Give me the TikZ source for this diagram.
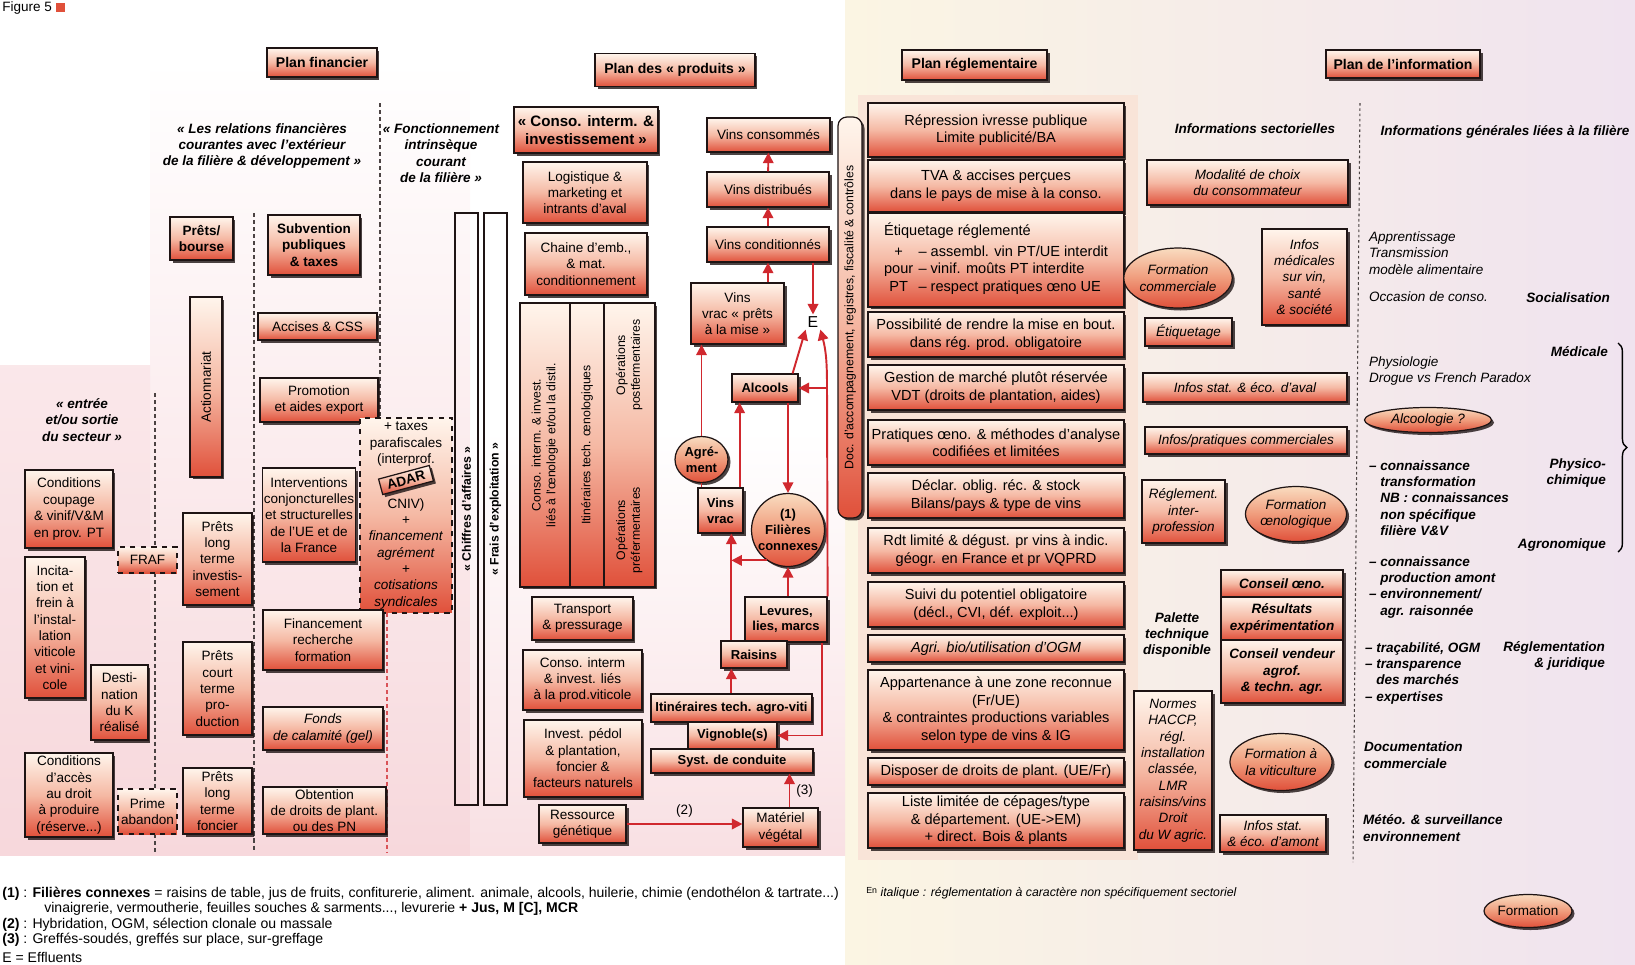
\documentclass[tikz,border=0pt]{standalone}
\usepackage{fontspec}
\setmainfont{Liberation Sans}
\usepackage{xcolor}
\usepackage{tikz}
\usetikzlibrary{arrows.meta,calc,shadows,shapes.geometric,decorations.pathreplacing,positioning}
\definecolor{ink}{HTML}{1E1414}
\definecolor{boxtop}{HTML}{FFF5EC}
\definecolor{boxmid}{HTML}{F5B9A4}
\definecolor{boxbot}{HTML}{E0503A}
\definecolor{ovtop}{HTML}{F9DCC0}
\definecolor{ovmid}{HTML}{F09C7C}
\definecolor{arrowred}{HTML}{D0282E}
\definecolor{pinkbg}{HTML}{F7D8DC}
\definecolor{creambg}{HTML}{FBF5E3}
\definecolor{lavbg}{HTML}{F0E3EF}
\definecolor{peachbg}{HTML}{F9E4D8}
\newcommand{\bxf}{\fontsize{7.7}{9.3}\selectfont}
\newcommand{\rgf}{\fontsize{8.3}{10}\selectfont}
\newcommand{\hdf}{\fontsize{8}{9.6}\selectfont\bfseries}
\newcommand{\smf}{\fontsize{7}{8.4}\selectfont}
\newcommand{\flf}{\fontsize{7.4}{9}\selectfont\bfseries}
\newcommand{\fnf}{\fontsize{8}{9.4}\selectfont}
\tikzset{
  plainbox/.style={draw=ink,line width=0.7pt,top color=boxtop,bottom color=boxbot,middle color=boxmid,
    inner sep=1pt,align=center,font=\bxf},
  box/.style={plainbox,drop shadow={shadow xshift=0.5mm,shadow yshift=-0.5mm,fill=ink,opacity=0.8}},
  dbox/.style={plainbox,dashed},
  rbox/.style={box,font=\rgf},
  ibox/.style={box,font=\bxf\itshape},
  hdr/.style={box,font=\hdf},
  oval/.style={box,ellipse,inner sep=0pt,top color=ovtop,bottom color=boxbot,middle color=ovmid},
  bar/.style={draw=ink,line width=1pt,inner sep=0pt,font=\smf\bfseries},
  cell/.style={draw=ink,line width=0.6pt,inner sep=0pt,font=\smf,minimum height=5.68cm},
  vtxt/.style={font=\smf,inner sep=0pt},
  note/.style={font=\bxf\bfseries\itshape,align=center,inner sep=1pt},
  gen/.style={font=\bxf\itshape,align=left,inner sep=1pt,anchor=west},
  genb/.style={gen,font=\bxf\bfseries\itshape},
  tag/.style={genb,anchor=east,align=right},
  sep/.style={draw=ink!80,line width=0.6pt,dash pattern=on 2.3pt off 1.7pt},
  fl/.style={-{Triangle[length=6pt,width=6pt]},draw=arrowred,line width=1.1pt},
  ln/.style={draw=arrowred,line width=1.1pt},
  fn/.style={font=\fnf,anchor=west,inner sep=0pt},
  >=Stealth}
\begin{document}
\begin{tikzpicture}[x=0.02cm,y=-0.02cm]
\useasboundingbox (0,0) rectangle (1635,964);

% paper tints
\fill[left color=creambg,right color=lavbg] (845,0) rectangle (1635,964);
\fill[top color=white,bottom color=pinkbg] (150,60) rectangle (470,855);
\fill[top color=pinkbg!60,bottom color=pinkbg] (0,365) rectangle (150,855);
\fill[top color=white,bottom color=pinkbg!80] (470,430) rectangle (845,855);
\fill[peachbg] (858,95) rectangle (1138,860);

\node[font=\bxf,anchor=west,inner sep=0pt] (figTitle) at (2,8) {Figure 5 \textcolor{boxbot}{\rule{5pt}{5pt}}};

% ---------------- plan financier
\node[hdr,minimum width=2.2cm,minimum height=0.58cm] (hdrFin) at (322,62.5) {Plan financier};
\node[note] (relExt) at (262,146) {«~Les relations financières\\courantes avec l'extérieur\\de la filière \& développement~»};
\node[note] (foncInt) at (441,153) {«~Fonctionnement\\intrinsèque\\courant\\de la filière~»};
\node[note] (entSort) at (82,420) {«~entrée\\et/ou sortie\\du secteur~»};

\draw[sep] (380,103) -- (380,418);
\draw[sep,draw=arrowred!80] (387,613) -- (387,852);
\draw[sep] (254,213) -- (254,852);
\draw[sep] (155,393) -- (155,547);
\draw[sep] (155,573) -- (155,789);
\draw[sep] (155,834) -- (155,852);

\node[box,font=\bxf\bfseries,minimum width=1.26cm,minimum height=0.86cm] (pretsBourse) at (201.5,238.5) {Prêts/\\bourse};
\node[box,font=\bxf\bfseries,minimum width=1.84cm,minimum height=1.2cm] (subv) at (314,245) {Subvention\\publiques\\\& taxes};
\node[box,minimum width=0.64cm,minimum height=3.6cm] (action) at (206,387) {\rotatebox{90}{Actionnariat}};
\node[box,minimum width=2.38cm,minimum height=0.54cm] (accises) at (317.5,326.5) {Accises \& CSS};
\node[box,minimum width=2.36cm,minimum height=0.88cm] (promo) at (319,400) {Promotion\\et aides export};
\node[dbox,minimum width=1.84cm,minimum height=3.9cm] (taxes) at (406,515.5)
  {+ taxes\\parafiscales\\(interprof.\\[16pt]CNIV)\\+\\\textit{financement}\\\textit{agrément}\\+\\\textit{cotisations}\\\textit{syndicales}};
\node[box,font=\bxf\bfseries,rotate=15,minimum width=1.05cm,minimum height=0.32cm,inner sep=0pt] (adar) at (406,480) {ADAR};
\node[box,minimum width=1.84cm,minimum height=1.88cm] (interv) at (309,515) {Interventions\\conjoncturelles\\et structurelles\\de l'UE et de\\la France};
\node[box,minimum width=1.38cm,minimum height=1.84cm] (pretsLong) at (217.5,559) {Prêts\\long\\terme\\investis-\\sement};
\node[box,minimum width=1.76cm,minimum height=1.56cm] (condCoup) at (69,509) {Conditions\\coupage\\\& vinif/V\&M\\en prov. PT};
\node[dbox,minimum width=1.18cm,minimum height=0.52cm] (fraf) at (147.5,560) {FRAF};
\node[box,minimum width=1.2cm,minimum height=2.82cm] (incit) at (55,627.5) {Incita-\\tion et\\frein à\\l'instal-\\lation\\viticole\\et vini-\\cole};
\node[box,minimum width=1.14cm,minimum height=1.5cm] (destin) at (119.5,702.5) {Desti-\\nation\\du K\\réalisé};
\node[box,minimum width=1.38cm,minimum height=1.86cm] (pretsCourt) at (217.5,688.5) {Prêts\\court\\terme\\pro-\\duction};
\node[box,minimum width=2.4cm,minimum height=1.2cm] (finRech) at (323,640) {Financement\\recherche\\formation};
\node[box,font=\bxf\itshape,minimum width=2.4cm,minimum height=0.86cm] (fonds) at (323,728.5) {Fonds\\de calamité (gel)};
\node[box,minimum width=1.76cm,minimum height=1.68cm] (condAcces) at (69,795) {Conditions\\d'accès\\au droit\\à produire\\(réserve...)};
\node[dbox,minimum width=1.18cm,minimum height=0.9cm] (prime) at (147.5,811.5) {Prime\\abandon};
\node[box,minimum width=1.38cm,minimum height=1.32cm] (pretsFonc) at (217.5,801) {Prêts\\long\\terme\\foncier};
\node[box,minimum width=2.46cm,minimum height=0.94cm] (obtention) at (324.5,810.5) {Obtention\\de droits de plant.\\ou des PN};

% ---------------- plan des produits
\node[hdr,minimum width=3.2cm,minimum height=0.66cm] (hdrProd) at (675,70) {Plan des «~produits~»};
\node[bar,minimum width=0.46cm,minimum height=11.84cm] (chiffre) at (466.5,509) {\rotatebox{90}{«~Chiffres d'affaires~»}};
\node[bar,minimum width=0.46cm,minimum height=11.84cm] (frais) at (495.5,509) {\rotatebox{90}{«~Frais d'exploitation~»}};

\node[box,font=\fontsize{8.6}{10}\selectfont\bfseries,minimum width=2.88cm,minimum height=0.92cm] (consoHdr) at (586,130) {«~Conso. interm. \&\\investissement~»};
\node[box,minimum width=2.48cm,minimum height=1.22cm] (logist) at (585,192.5) {Logistique \&\\marketing et\\intrants d'aval};
\node[box,minimum width=2.44cm,minimum height=1.24cm] (chaine) at (586,264) {Chaine d'emb.,\\\& mat.\\conditionnement};
\node[box,minimum width=2.7cm,minimum height=5.68cm] (oenoBox) at (587.5,445) {};
\node[cell,minimum width=1.0cm] (oenoA) at (545,445) {\rotatebox{90}{\begin{tabular}{@{}c@{}}Conso. interm. \& invest.\\liés à l'œnologie et/ou la distil.\end{tabular}}};
\node[cell,minimum width=0.68cm] (oenoB) at (587,445) {\rotatebox{90}{Itinéraires tech. œnologiques}};
\node[cell,minimum width=1.02cm] (oenoC) at (629.5,445) {};
\node[vtxt] (postFerm) at (629.5,365) {\rotatebox{90}{\begin{tabular}{@{}c@{}}Opérations\\postfermentaires\end{tabular}}};
\node[vtxt] (preFerm) at (629.5,530) {\rotatebox{90}{\begin{tabular}{@{}c@{}}Opérations\\préfermentaires\end{tabular}}};
\node[box,minimum width=2.02cm,minimum height=0.86cm] (transport) at (582.5,618.5) {Transport\\\& pressurage};
\node[box,minimum width=2.38cm,minimum height=1.2cm] (consoProd) at (582.5,680) {Conso. interm\\\& invest. liés\\à la prod.viticole};
\node[box,minimum width=2.36cm,minimum height=1.54cm] (investPed) at (583,758.5) {Invest. pédol\\\& plantation,\\foncier \&\\facteurs naturels};
\node[box,minimum width=1.74cm,minimum height=0.76cm] (ressource) at (582.5,824) {Ressource\\génétique};

\node[box,minimum width=2.46cm,minimum height=0.68cm] (vinsCons) at (768.5,135) {Vins consommés};
\node[box,minimum width=2.44cm,minimum height=0.7cm] (vinsDist) at (768,189.5) {Vins distribués};
\node[box,minimum width=2.44cm,minimum height=0.7cm] (vinsCond) at (768,244.5) {Vins conditionnés};
\node[box,minimum width=1.86cm,minimum height=1.22cm] (vinsPrets) at (737.5,313.5) {Vins\\vrac «~prêts\\à la mise~»};
\node[font=\small,inner sep=1pt] (effl) at (813,322) {E};
\node[box,font=\flf,minimum width=1.32cm,minimum height=0.56cm] (alcools) at (765,388) {Alcools};
\node[oval,font=\flf,minimum width=1.06cm,minimum height=0.92cm] (agrement) at (701.5,459.5) {Agré-\\ment};
\node[box,font=\flf,minimum width=0.9cm,minimum height=0.9cm] (vinsVrac) at (720.5,510.5) {Vins\\vrac};
\node[oval,circle,font=\flf,minimum size=1.46cm] (filieres) at (788,530) {(1)\\Filières\\connexes};
\node[box,font=\flf,minimum width=1.64cm,minimum height=0.9cm] (levures) at (786,619.5) {Levures,\\lies, marcs};
\node[box,font=\flf,minimum width=1.32cm,minimum height=0.54cm] (raisins) at (754,654.5) {Raisins};
\node[box,font=\flf,minimum width=3.22cm,minimum height=0.56cm] (itin) at (731.5,708) {Itinéraires tech. agro-viti};
\node[box,font=\flf,minimum width=1.78cm,minimum height=0.54cm] (vignoble) at (732.5,735.5) {Vignoble(s)};
\node[box,font=\flf,minimum width=3.24cm,minimum height=0.48cm] (systCond) at (732,761) {Syst. de conduite};
\node[box,minimum width=1.5cm,minimum height=0.78cm] (materiel) at (780.5,827.5) {Matériel\\végétal};

\coordinate (rJ) at (827,388);
\coordinate (vvTop) at ($(vinsVrac.north east)+(-4,0)$);
\coordinate (rsTop) at ($(raisins.north west)+(11,0)$);
\coordinate (mvTop) at ($(materiel.north)+(9,0)$);
\draw[fl] (vinsDist) -- (vinsCons);
\draw[fl] (vinsCond) -- (vinsDist);
\draw[fl] (vinsPrets.north -| vinsCond.south) -- (vinsCond.south);
\draw[fl] (vinsCond.south -| effl) -- (effl.north);
\draw[fl] ($(alcools.north east)+(-6,0)$) -- (effl.south west);
\draw[fl] (levures.north east) -- (rJ) to[out=90,in=-75] (effl.south east);
\draw[fl] (rJ) -- (alcools.east);
\draw[fl] ($(levures.south east)+(-6,0)$) |- (vignoble.east);
\draw[fl] (alcools.south -| filieres.north) -- (filieres.north);
\draw[fl] (vvTop) -- (vvTop |- alcools.south);
\draw[fl] (agrement.north) -- (agrement.north |- vinsPrets.south);
\draw[ln] (vinsVrac.north -| agrement.south) -- (agrement.south);
\draw[fl] (rsTop) -- (rsTop |- vinsVrac.south);
\draw[fl] (filieres.235) -- (rsTop |- filieres.235);
\draw[fl] (levures.north -| filieres.south) -- (filieres.south);
\draw[fl] (itin.north -| rsTop) -- (raisins.south -| rsTop);
\draw[fl] (mvTop) -- node[right,font=\bxf] (lblThree) {(3)} (mvTop |- systCond.south);
\draw[fl] (ressource.east) -- node[above,font=\bxf] (lblTwo) {(2)} (ressource.east -| materiel.west);

\node[box,rounded corners=5pt,minimum width=0.48cm,minimum height=8.02cm,font=\smf] (docBar) at (850,317.5) {\rotatebox{90}{Doc. d'accompagnement, registres, fiscalité \& contrôles}};

% ---------------- plan reglementaire
\node[hdr,minimum width=2.9cm,minimum height=0.6cm] (hdrReg) at (974.5,65) {Plan réglementaire};
\node[rbox,minimum width=5.12cm,minimum height=1.08cm] (repress) at (996,130) {Répression ivresse publique\\Limite publicité/BA};
\node[rbox,minimum width=5.12cm,minimum height=1.04cm] (tva) at (996,186) {TVA \& accises perçues\\dans le pays de mise à la conso.};
\node[rbox,align=left,minimum width=5.12cm,minimum height=1.88cm] (etiqReg) at (996,260)
  {Étiquetage réglementé\\[2pt]\begin{tabular}{@{}c@{\hspace{3pt}}l@{}}+ & -- assembl. vin PT/UE interdit\\pour & -- vinif. moûts PT interdite\\PT & -- respect pratiques œno UE\end{tabular}};
\node[rbox,minimum width=5.12cm,minimum height=0.9cm] (possMise) at (996,334.5) {Possibilité de rendre la mise en bout.\\dans rég. prod. obligatoire};
\node[rbox,minimum width=5.12cm,minimum height=0.9cm] (gestMarche) at (996,387.5) {Gestion de marché plutôt réservée\\VDT (droits de plantation, aides)};
\node[rbox,minimum width=5.12cm,minimum height=0.9cm] (pratOeno) at (996,442.5) {Pratiques œno. \& méthodes d'analyse\\codifiées et limitées};
\node[rbox,minimum width=5.12cm,minimum height=0.9cm] (declar) at (996,495.5) {Déclar. oblig. réc. \& stock\\Bilans/pays \& type de vins};
\node[rbox,minimum width=5.12cm,minimum height=0.9cm] (rdtLim) at (996,550.5) {Rdt limité \& dégust. pr vins à indic.\\géogr. en France et pr VQPRD};
\node[rbox,minimum width=5.12cm,minimum height=0.9cm] (suivi) at (996,604.5) {Suivi du potentiel obligatoire\\(décl., CVI, déf. exploit...)};
\node[rbox,font=\rgf\itshape,minimum width=5.12cm,minimum height=0.54cm] (agriBio) at (996,648.5) {Agri. bio/utilisation d'OGM};
\node[rbox,minimum width=5.12cm,minimum height=1.6cm] (appart) at (996,710) {Appartenance à une zone reconnue\\(Fr/UE)\\\& contraintes productions variables\\selon type de vins \& IG};
\node[rbox,minimum width=5.12cm,minimum height=0.54cm] (droitsPl) at (996,771.5) {Disposer de droits de plant. (UE/Fr)};
\node[rbox,minimum width=5.12cm,minimum height=1.1cm] (listeCep) at (996,820.5) {Liste limitée de cépages/type\\\& département. (UE->EM)\\+ direct. Bois \& plants};

% ---------------- plan de l'information
\node[hdr,minimum width=3.08cm,minimum height=0.56cm] (hdrInfo) at (1403,64) {Plan de l'information};
\draw[sep,dash pattern=on 1.5pt off 1.5pt] (1360,103) -- (1353,862);
\node[note] (infSect) at (1255,129) {Informations sectorielles};
\node[note] (infGen) at (1505,132) {Informations générales liées à la filière};

\node[ibox,minimum width=4.02cm,minimum height=0.9cm] (modalite) at (1247.5,182.5) {Modalité de choix\\du consommateur};
\node[oval,font=\bxf\itshape,minimum width=1.8cm,minimum height=1.2cm] (formCom) at (1178,278) {Formation\\commerciale};
\node[ibox,minimum width=1.7cm,minimum height=1.92cm] (infosMed) at (1304.5,277) {Infos\\médicales\\sur vin,\\santé\\\& société};
\node[ibox,minimum width=1.74cm,minimum height=0.56cm] (etiquet) at (1188.5,332) {Étiquetage};
\node[ibox,minimum width=4.08cm,minimum height=0.58cm] (infosAval) at (1245,387.5) {Infos stat. \& éco. d'aval};
\node[ibox,minimum width=4.04cm,minimum height=0.54cm] (infosPrat) at (1246,440.5) {Infos/pratiques commerciales};
\node[ibox,minimum width=1.66cm,minimum height=1.26cm] (reglInter) at (1183.5,511.5) {Réglement.\\inter-\\profession};
\node[oval,font=\bxf\itshape,minimum width=1.9cm,minimum height=1.1cm] (formOeno) at (1296,514) {Formation\\œnologique};
\node[note] (palette) at (1177,635) {Palette\\technique\\disponible};
\node[ibox,font=\bxf\bfseries\itshape,minimum width=2.44cm,minimum height=0.54cm] (consOeno) at (1282,583.5) {Conseil œno.};
\node[ibox,font=\bxf\bfseries\itshape,minimum width=2.44cm,minimum height=0.86cm] (resultats) at (1282,618.5) {Résultats\\expérimentation};
\node[ibox,font=\bxf\bfseries\itshape,minimum width=2.44cm,minimum height=1.26cm] (consVend) at (1282,671.5) {Conseil vendeur\\agrof.\\\& techn. agr.};
\node[ibox,minimum width=1.56cm,minimum height=3.18cm] (normes) at (1173,770.5) {Normes\\HACCP,\\régl.\\installation\\classée,\\LMR\\raisins/vins\\Droit\\du W agric.};
\node[oval,font=\bxf\itshape,minimum width=1.84cm,minimum height=1.14cm] (formViti) at (1281,762) {Formation à\\la viticulture};
\node[ibox,minimum width=2.12cm,minimum height=0.74cm] (infosAmont) at (1273,833.5) {Infos stat.\\\& éco. d'amont};

\node[gen] (apprent) at (1367,253) {Apprentissage\\Transmission\\modèle alimentaire};
\node[gen] (occasion) at (1367,297) {Occasion de conso.};
\node[tag] (social) at (1612,298) {Socialisation};
\node[tag] (medic) at (1610,352) {Médicale};
\node[gen] (physio) at (1367,371) {Physiologie\\Drogue vs French Paradox};
\node[oval,font=\bxf\itshape,minimum width=2.54cm,minimum height=0.5cm] (alcoolog) at (1428,420) {Alcoologie ?};
\node[genb] (connTr) at (1367,498) {-- connaissance\\\phantom{-- }transformation\\\phantom{-- }NB : connaissances\\\phantom{-- }non spécifique\\\phantom{-- }filière V\&V};
\node[tag] (physCh) at (1608,473) {Physico-\\chimique};
\node[tag] (agron) at (1608,545) {Agronomique};
\draw[decorate,decoration={brace,amplitude=5pt},line width=0.8pt] (1618,343) -- (1618,552);
\node[genb] (connPr) at (1367,587) {-- connaissance\\\phantom{-- }production amont\\-- environnement/\\\phantom{-- }agr. raisonnée};
\node[genb] (tracab) at (1363,673) {-- traçabilité, OGM\\-- transparence\\\phantom{-- }des marchés\\-- expertises};
\node[tag] (reglJur) at (1607,656) {Réglementation\\\& juridique};
\node[genb] (docCom) at (1362,755) {Documentation\\commerciale};
\node[genb] (meteo) at (1361,828) {Météo. \& surveillance\\environnement};
\node[oval,font=\bxf,minimum width=1.76cm,minimum height=0.66cm] (formation) at (1528,911) {Formation};

% ---------------- notes
\node[fn] (fnOne) at (2,894) {\textbf{(1)} : \textbf{Filières connexes} = raisins de table, jus de fruits, confiturerie, aliment. animale, alcools, huilerie, chimie (endothélon \& tartrate...)};
\node[fn] (fnOneB) at (44,909) {vinaigrerie, vermoutherie, feuilles souches \& sarments..., levurerie \textbf{+ Jus, M [C], MCR}};
\node[fn] (fnTwo) at (2,925) {\textbf{(2)} : Hybridation, OGM, sélection clonale ou massale};
\node[fn] (fnThree) at (2,940) {\textbf{(3)} : Greffés-soudés, greffés sur place, sur-greffage};
\node[fn] (fnE) at (2,957) {E = Effluents};
\node[fn,font=\smf] (fnItal) at (866,893) {\raisebox{2pt}{\tiny En} \textit{italique : réglementation à caractère non spécifiquement sectoriel}};
\end{tikzpicture}
\end{document}
